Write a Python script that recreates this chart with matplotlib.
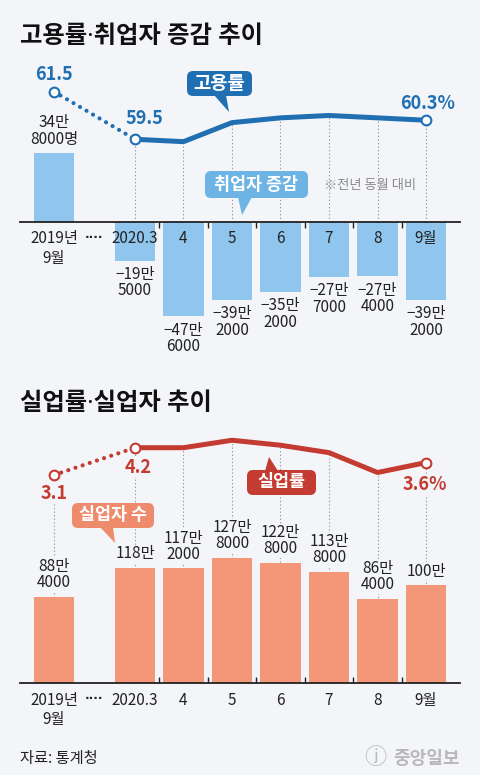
import numpy as np
import matplotlib
matplotlib.use('Agg')
import matplotlib.pyplot as plt
from matplotlib.patches import FancyBboxPatch, Polygon
from matplotlib.transforms import IdentityTransform

plt.rcParams['font.family'] = ['Noto Sans CJK KR', 'DejaVu Sans']

# data
months = ['2019년\n9월', '2020.3', '4', '5', '6', '7', '8', '9월']
emp_rate = [61.5, 59.5, 59.4, 60.2, 60.4, 60.5, 60.4, 60.3]           # 고용률 %
emp_change = [348000, -195000, -476000, -392000, -352000, -277000, -274000, -392000]  # 취업자 증감
unemp_rate = [3.1, 4.2, 4.2, 4.5, 4.3, 4.0, 3.2, 3.6]                 # 실업률 %
unemployed = [884000, 1180000, 1172000, 1278000, 1228000, 1138000, 864000, 1000000]   # 실업자 수

W, H = 480, 775
BG = '#f3f5f9'
BLUE, LBLUE, BARBLUE = '#1f6fb2', '#6db3e4', '#90c6ee'
RED, SALMON, BARSALMON = '#c43b31', '#ef8b6d', '#f49678'
INK = '#222222'
TITLE_FONT = ['Noto Sans', 'Noto Sans CJK KR']

# 2019 sits a bit apart from the 2020 months
xpos = np.array([-1.67] + list(range(len(months) - 1)), dtype=float)

fig = plt.figure(figsize=(W / 100, H / 100), dpi=100, facecolor=BG)


def man_label(v, unit=''):
    sign = '−' if v < 0 else ''
    big, rest = divmod(abs(v), 10000)
    s = f'{sign}{big}만'
    if rest:
        s += f'\n{rest}{unit}'
    return s


def panel(top_px, bot_px, bars, rate, bar_lim, rate_lim, bar_c, line_c,
          tick_dir, rate_offs, first_unit, vline_from):
    ax = fig.add_axes([20 / W, 1 - bot_px / H, 440 / W, (bot_px - top_px) / H])
    ax.set_facecolor('none')
    ax.set_xlim(-2.371, 6.701)
    ax.set_ylim(*bar_lim)
    ax2 = ax.twinx()
    ax2.set_ylim(*rate_lim)

    vals = np.array(bars) / 10000
    ax.bar(xpos, vals, width=0.825, color=bar_c, zorder=1)

    # dotted guides from the rate line down to the baseline (under the bars)
    r = np.array(rate)
    ry = bar_lim[0] + (r - rate_lim[0]) / (rate_lim[1] - rate_lim[0]) * (bar_lim[1] - bar_lim[0])
    ax.vlines(xpos[vline_from:], 0, ry[vline_from:], colors='#9a9a9a', lw=0.8,
              linestyles=(0, (1.2, 2)), zorder=0.5)

    for i, v in enumerate(bars):
        lab = man_label(v, first_unit if i == 0 else '')
        off = 4 if v > 0 else -4
        ax.annotate(lab, (xpos[i], vals[i]), xytext=(0, off), textcoords='offset points',
                    ha='center', va='bottom' if v > 0 else 'top', fontsize=11,
                    color=INK, linespacing=0.95, zorder=3,
                    bbox=dict(fc=BG, ec='none', pad=0.3))

    for s in ['top', 'left', 'right']:
        ax.spines[s].set_visible(False)
        ax2.spines[s].set_visible(False)
    ax2.spines['bottom'].set_visible(False)
    ax.spines['bottom'].set_position(('data', 0))
    ax.spines['bottom'].set_color(INK)
    ax.spines['bottom'].set_linewidth(1.3)
    ax.set_yticks([])
    ax2.set_yticks([])
    ax.set_xticks(xpos, months)
    ax.set_xticks(np.arange(0.5, 6, 1), minor=True)
    ax.tick_params(axis='x', which='major', length=0, pad=6, labelsize=11, labelcolor=INK)
    ax.tick_params(axis='x', which='minor', length=4, width=1, color=INK, direction=tick_dir)
    ax.annotate('····', ((xpos[0] + xpos[1]) / 2, 0), xytext=(0, -11),
                textcoords='offset points', ha='center', va='center', fontsize=8.5,
                fontweight='bold', color=INK, family='DejaVu Sans')

    # rate line: dotted 2019 -> 2020.3, solid afterwards
    ax2.plot(xpos[:2], r[:2], color=line_c, lw=3, ls=(0, (0.01, 1.8)),
             dash_capstyle='round', zorder=3)
    ax2.plot(xpos[1:], r[1:], color=line_c, lw=3.6, solid_joinstyle='round', zorder=3)
    ends = [0, 1, len(r) - 1]
    ax2.plot(xpos[ends], r[ends], ls='none', marker='o', ms=7, mfc='white',
             mec=line_c, mew=1.5, zorder=4)
    for k, i in enumerate(ends):
        txt = f'{r[i]}' + ('%' if i == len(r) - 1 else '')
        ax2.annotate(txt, (xpos[i], r[i]), xytext=rate_offs[k], textcoords='offset points',
                     ha='center', va='center', fontsize=13, fontweight='bold',
                     color=line_c, zorder=5, bbox=dict(fc=BG, ec='none', pad=0.2))
    return ax, ax2


# 고용률 / 취업자 증감
panel(60, 360, emp_change, emp_rate, (-69.7, 81.8), (50.23, 62.83), BARBLUE, BLUE,
      'out', [(0, 12), (7, 15), (1, 12)], '명', 1)
# 실업률 / 실업자 수
panel(420, 740, unemployed, unemp_rate, (-57.9, 268.7), (-7.586, 5.317), BARSALMON, RED,
      'in', [(0, -13), (2, -14), (-1, -16)], '', 0)


def callout(x0, y0, x1, y1, tail, text, color, fs=12.5):
    box = FancyBboxPatch((x0, H - y1), x1 - x0, y1 - y0,
                         boxstyle='round,pad=0,rounding_size=6', fc=color, ec='none',
                         transform=IdentityTransform(), zorder=10)
    fig.add_artist(box)
    tri = Polygon([(px, H - py) for px, py in tail], closed=True, fc=color, ec='none',
                  transform=IdentityTransform(), zorder=10)
    fig.add_artist(tri)
    fig.text((x0 + x1) / 2 / W, 1 - (y0 + y1) / 2 / H, text, color='white', fontsize=fs,
             fontweight='bold', ha='center', va='center', zorder=11)


callout(187, 71, 252, 96, [(214, 95), (226, 95), (229, 112)], '고용률', BLUE, 13.5)
callout(205, 171, 308, 198, [(238, 197), (252, 197), (242, 215)], '취업자 증감', LBLUE)
callout(72, 503, 154, 528, [(100, 527), (113, 527), (115, 543)], '실업자 수', SALMON)
callout(247, 470, 316, 495, [(265, 471), (278, 471), (269, 457)], '실업률', RED)

fig.text(20 / W, 1 - 37 / H, '고용률·취업자 증감 추이', fontsize=17.5, fontweight='bold',
         color='#111111', va='center', family=TITLE_FONT)
fig.text(20 / W, 1 - 404 / H, '실업률·실업자 추이', fontsize=17.5, fontweight='bold',
         color='#111111', va='center', family=TITLE_FONT)
fig.text(370 / W, 1 - 186 / H, '※전년 동월 대비', fontsize=9.5, color='#8a8a8a',
         ha='center', va='center')
fig.text(20 / W, 1 - 758 / H, '자료: 통계청', fontsize=11, color=INK, va='center')
fig.text(375 / W, 1 - 758 / H, 'ⓙ', fontsize=16, color='#b8b8b8',
         ha='center', va='center', family=['Noto Sans CJK KR', 'DejaVu Sans'])
fig.text(460 / W, 1 - 758 / H, '중앙일보', fontsize=13, fontweight='bold',
         color='#b8b8b8', ha='right', va='center')

fig.savefig('out.png', dpi=100, facecolor=BG)
